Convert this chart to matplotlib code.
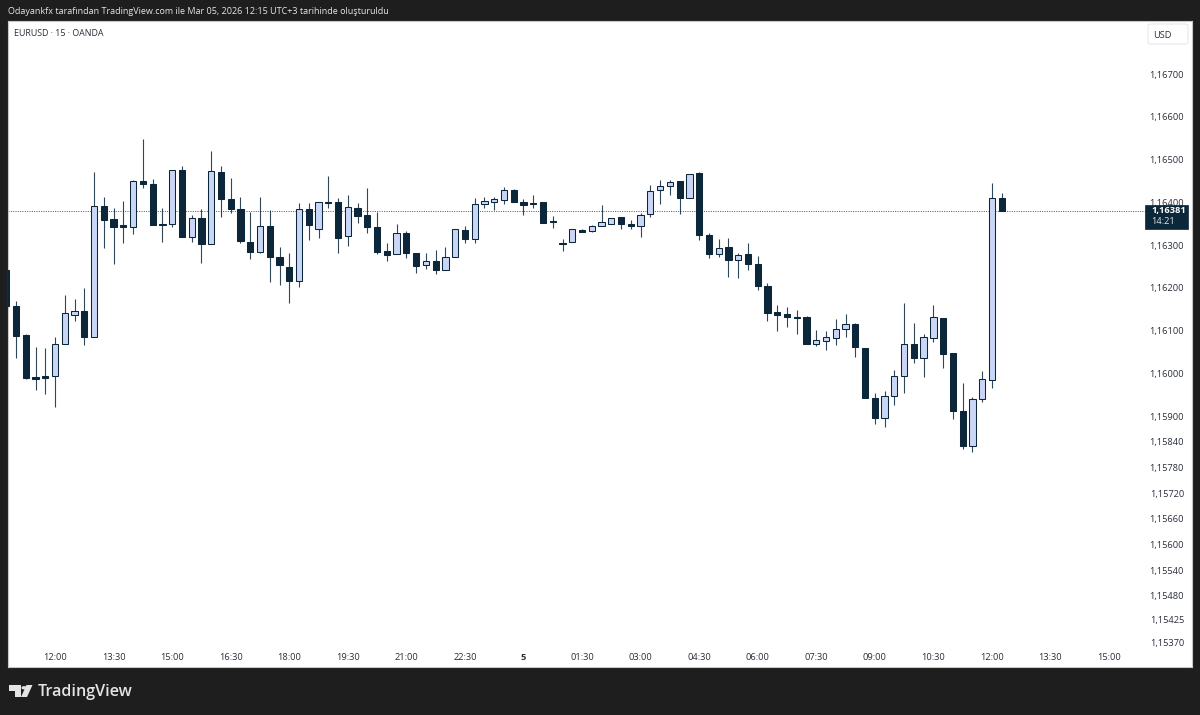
import matplotlib
matplotlib.use('Agg')
import matplotlib.pyplot as plt
from matplotlib.patches import FancyBboxPatch, Polygon, Circle, Rectangle
import numpy as np

# 15 minute EURUSD candles, bar 0 is 12:00
first_bar = -5
opens = [1.16242, 1.16158, 1.16090, 1.15992, 1.15993, 1.15994, 1.16069, 1.16137, 1.16146, 1.16085,
         1.16392, 1.16361, 1.16347, 1.16342, 1.16450, 1.16442, 1.16349, 1.16349, 1.16476, 1.16319,
         1.16363, 1.16303, 1.16472, 1.16408, 1.16385, 1.16308, 1.16285, 1.16345, 1.16272, 1.16249,
         1.16216, 1.16385, 1.16338, 1.16401, 1.16400, 1.16321, 1.16386, 1.16370, 1.16342, 1.16286,
         1.16279, 1.16329, 1.16282, 1.16254, 1.16264, 1.16243, 1.16272, 1.16335, 1.16314, 1.16397,
         1.16402, 1.16406, 1.16430, 1.16400, 1.16399, 1.16400, 1.16356, 1.16304, 1.16307, 1.16335,
         1.16333, 1.16344, 1.16349, 1.16366, 1.16349, 1.16345, 1.16372, 1.16428, 1.16438, 1.16449,
         1.16410, 1.16468, 1.16323, 1.16280, 1.16296, 1.16265, 1.16279, 1.16255, 1.16205, 1.16144,
         1.16139, 1.16132, 1.16133, 1.16069, 1.16076, 1.16082, 1.16105, 1.16116, 1.16059, 1.15942,
         1.15896, 1.15946, 1.15993, 1.16069, 1.16035, 1.16083, 1.16129, 1.16047, 1.15911, 1.15829,
         1.15941, 1.15985, 1.16410]
highs = [1.16247, 1.16169, 1.16092, 1.16062, 1.16059, 1.16084, 1.16183, 1.16174, 1.16200, 1.16472,
         1.16413, 1.16387, 1.16404, 1.16452, 1.16548, 1.16455, 1.16387, 1.16476, 1.16485, 1.16371,
         1.16385, 1.16520, 1.16485, 1.16458, 1.16413, 1.16378, 1.16413, 1.16382, 1.16296, 1.16282,
         1.16399, 1.16399, 1.16401, 1.16462, 1.16410, 1.16417, 1.16399, 1.16434, 1.16378, 1.16304,
         1.16349, 1.16334, 1.16282, 1.16281, 1.16289, 1.16295, 1.16337, 1.16345, 1.16410, 1.16412,
         1.16412, 1.16435, 1.16431, 1.16408, 1.16417, 1.16401, 1.16368, 1.16315, 1.16337, 1.16337,
         1.16347, 1.16394, 1.16363, 1.16366, 1.16359, 1.16376, 1.16441, 1.16452, 1.16452, 1.16450,
         1.16466, 1.16472, 1.16328, 1.16314, 1.16316, 1.16281, 1.16304, 1.16275, 1.16211, 1.16160,
         1.16155, 1.16148, 1.16135, 1.16102, 1.16098, 1.16127, 1.16139, 1.16117, 1.16059, 1.15953,
         1.15958, 1.16007, 1.16164, 1.16119, 1.16091, 1.16160, 1.16130, 1.16047, 1.15977, 1.15944,
         1.16005, 1.16445, 1.16423]
lows = [1.16158, 1.16036, 1.15988, 1.15961, 1.15952, 1.15921, 1.16069, 1.16123, 1.16066, 1.16085,
        1.16293, 1.16256, 1.16305, 1.16326, 1.16434, 1.16347, 1.16308, 1.16342, 1.16319, 1.16307,
        1.16259, 1.16303, 1.16366, 1.16376, 1.16305, 1.16268, 1.16282, 1.16214, 1.16207, 1.16165,
        1.16203, 1.16312, 1.16317, 1.16387, 1.16282, 1.16298, 1.16352, 1.16329, 1.16279, 1.16264,
        1.16279, 1.16271, 1.16236, 1.16245, 1.16233, 1.16243, 1.16272, 1.16305, 1.16305, 1.16387,
        1.16382, 1.16396, 1.16401, 1.16370, 1.16388, 1.16351, 1.16341, 1.16287, 1.16307, 1.16331,
        1.16331, 1.16344, 1.16349, 1.16338, 1.16338, 1.16320, 1.16365, 1.16396, 1.16418, 1.16373,
        1.16410, 1.16312, 1.16271, 1.16272, 1.16225, 1.16222, 1.16242, 1.16195, 1.16123, 1.16099,
        1.16109, 1.16092, 1.16069, 1.16064, 1.16055, 1.16066, 1.16084, 1.16039, 1.15942, 1.15882,
        1.15875, 1.15927, 1.15955, 1.16024, 1.15991, 1.16073, 1.16013, 1.15893, 1.15824, 1.15816,
        1.15933, 1.15966, 1.16381]
closes = [1.16158, 1.16088, 1.15989, 1.15988, 1.15990, 1.16069, 1.16141, 1.16145, 1.16085, 1.16392,
          1.16359, 1.16343, 1.16342, 1.16450, 1.16442, 1.16347, 1.16347, 1.16476, 1.16319, 1.16363,
          1.16303, 1.16473, 1.16408, 1.16385, 1.16310, 1.16285, 1.16345, 1.16273, 1.16254, 1.16216,
          1.16385, 1.16348, 1.16401, 1.16399, 1.16317, 1.16389, 1.16369, 1.16342, 1.16285, 1.16278,
          1.16329, 1.16282, 1.16252, 1.16262, 1.16243, 1.16273, 1.16337, 1.16314, 1.16397, 1.16403,
          1.16407, 1.16430, 1.16402, 1.16395, 1.16397, 1.16352, 1.16353, 1.16302, 1.16337, 1.16331,
          1.16345, 1.16353, 1.16363, 1.16350, 1.16345, 1.16371, 1.16427, 1.16438, 1.16448, 1.16410,
          1.16466, 1.16324, 1.16280, 1.16294, 1.16265, 1.16276, 1.16257, 1.16205, 1.16141, 1.16137,
          1.16132, 1.16130, 1.16069, 1.16077, 1.16084, 1.16105, 1.16115, 1.16061, 1.15942, 1.15895,
          1.15946, 1.15994, 1.16069, 1.16035, 1.16084, 1.16131, 1.16046, 1.15911, 1.15829, 1.15939,
          1.15986, 1.16410, 1.16381]

price_ticks = [1.167, 1.166, 1.165, 1.164, 1.163, 1.162, 1.161, 1.160, 1.159, 1.1584,
               1.1578, 1.1572, 1.1566, 1.156, 1.1554, 1.1548, 1.15425, 1.1537]
time_ticks = [0, 6, 12, 18, 24, 30, 36, 42, 48, 54, 60, 66, 72, 78, 84, 90, 96, 102, 108]
time_labels = ['12:00', '13:30', '15:00', '16:30', '18:00', '19:30', '21:00', '22:30', '5', '01:30',
               '03:00', '04:30', '06:00', '07:30', '09:00', '10:30', '12:00', '13:30', '15:00']

DARK = '#0b2739'
LIGHT = '#c9d6f6'
FRAME = '#1e1e1e'
TEXT = '#2a2e39'
W, H = 1200, 715

plt.rcParams['font.family'] = ['Open Sans', 'DejaVu Sans']

fig = plt.figure(figsize=(W / 100, H / 100), dpi=100, facecolor=FRAME)
ax = fig.add_axes([8 / W, (H - 667) / H, (1192 - 8) / W, (667 - 21) / H])
ax.set_facecolor('white')


def px(x, y):
    # picture pixels to figure fractions
    return x / W, (H - y) / H


opens = np.array(opens)
closes = np.array(closes)
bars = first_bar + np.arange(len(opens))
rising = closes >= opens

ax.vlines(bars, lows, highs, color=DARK, lw=0.8, alpha=0.85, zorder=3)
ax.bar(bars, np.abs(closes - opens), bottom=np.minimum(opens, closes), width=0.64,
       color=np.where(rising, LIGHT, DARK), edgecolor=DARK, linewidth=0.75, zorder=4)
# last price line stops at the price tag
ax.axhline(closes[-1], xmax=(1145 - 8) / (1192 - 8), color='#3f5666', lw=0.7, ls=(0, (1, 1.4)), zorder=2)

ax.set_xlim(-4.82, 116.5)
ax.set_ylim(1.153132, 1.168243)

ax.set_yticks(price_ticks)
ax.set_yticklabels([f'{v:.5f}'.replace('.', ',') for v in price_ticks],
                   ha='right', color=TEXT, fontsize=6.7)
ax.yaxis.tick_right()
ax.tick_params(axis='y', length=0, pad=-5.8)
ax.set_xticks(time_ticks)
ax.set_xticklabels(time_labels, color=TEXT, fontsize=6.7)
ax.get_xticklabels()[8].set_fontweight('bold')
ax.tick_params(axis='x', length=0, pad=-10.2)
for s in ax.spines.values():
    s.set_color('#c8c8c8')
    s.set_linewidth(0.8)

# header and symbol
fig.text(*px(8, 11), 'Odayankfx tarafından TradingView.com ile Mar 05, 2026 12:15 UTC+3 tarihinde oluşturuldu',
         color='#e6e6e6', fontsize=6.47, va='center', ha='left')
fig.text(*px(14, 33), 'EURUSD · 15 · OANDA', color=TEXT, fontsize=6.4, va='center', ha='left')

# currency button
ax.add_patch(FancyBboxPatch(px(1148, 44), 40 / W, 20 / H, boxstyle='round,pad=0,rounding_size=0.003',
                            transform=fig.transFigure, fc='white', ec='#e6e8ee', lw=0.8, clip_on=False, zorder=5))
fig.text(*px(1162, 35), 'USD', color=TEXT, fontsize=6.7, va='center', ha='center', zorder=6)

# last price tag
ax.add_patch(Rectangle(px(1145, 229), 43 / W, 24 / H, transform=fig.transFigure,
                       fc=DARK, ec=DARK, lw=0.5, clip_on=False, zorder=5))
fig.text(*px(1151, 211), f'{closes[-1]:.5f}'.replace('.', ','), color='white', fontsize=6.7,
         fontweight='bold', va='center', ha='left', zorder=6)
fig.text(*px(1151, 222), '14:21', color='#dfe5ea', fontsize=6.7, va='center', ha='left', zorder=6)

# logo
logo = '#e4e4e4'
fig.add_artist(Polygon([px(9, 685), px(21, 685), px(21, 697), px(15, 697), px(15, 690.5), px(9, 690.5)],
                       transform=fig.transFigure, fc=logo, ec='none'))
fig.add_artist(Circle(px(24.2, 687.8), 2.8 / W, transform=fig.transFigure, fc=logo, ec='none'))
fig.add_artist(Polygon([px(26.5, 685), px(32.5, 685), px(27, 697), px(21, 697)],
                       transform=fig.transFigure, fc=logo, ec='none'))
fig.text(*px(38, 691.5), 'TradingView', color=logo, fontsize=11.6, fontweight='semibold', va='center', ha='left')

fig.savefig('out.png', dpi=100, facecolor=FRAME)
